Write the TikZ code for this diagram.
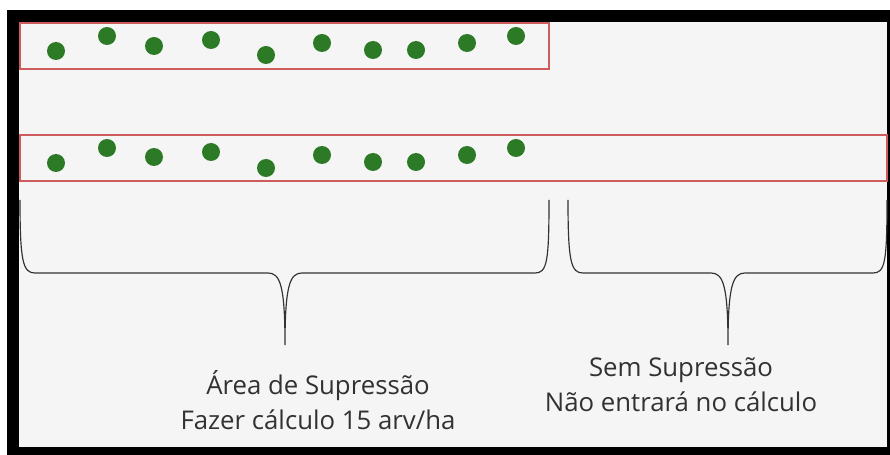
\documentclass[tikz,border=0pt]{standalone}
\usepackage{fontspec}
\setmainfont{Open Sans}
\definecolor{treegreen}{RGB}{44,122,38}
\definecolor{striped}{RGB}{206,92,92}
\definecolor{paper}{RGB}{245,245,245}
\definecolor{ink}{RGB}{50,50,50}
\tikzset{
  tree/.style={fill=treegreen},
  strip/.style={draw=striped,line width=1.6pt},
  bracket/.style={draw=ink,line width=1pt},
  caption/.style={text=ink,align=center,font=\fontsize{22}{30}\selectfont}
}
\begin{document}
\begin{tikzpicture}[x=0.03cm,y=-0.03cm]
\useasboundingbox (0,0) rectangle (890,455);
\fill[white] (0,0) rectangle (890,455);
\fill[black] (7,10) rectangle (890,455);
\fill[paper] (19,22) rectangle (887,447);
% faixas
\draw[strip] (20,23) rectangle (549,69);
\draw[strip] (20,135) rectangle (887,181);
% arvores, faixa de cima
\fill[tree] (56,51) circle(9);
\fill[tree] (107,36) circle(9);
\fill[tree] (154,46) circle(9);
\fill[tree] (211,40) circle(9);
\fill[tree] (266,55) circle(9);
\fill[tree] (322,43) circle(9);
\fill[tree] (373,50) circle(9);
\fill[tree] (416,50) circle(9);
\fill[tree] (467,43) circle(9);
\fill[tree] (516,36) circle(9);
% arvores, faixa de baixo
\fill[tree] (56,163) circle(9);
\fill[tree] (107,148) circle(9);
\fill[tree] (154,157) circle(9);
\fill[tree] (211,152) circle(9);
\fill[tree] (266,168) circle(9);
\fill[tree] (322,155) circle(9);
\fill[tree] (373,162) circle(9);
\fill[tree] (416,162) circle(9);
\fill[tree] (467,155) circle(9);
\fill[tree] (516,148) circle(9);
% chaves
\coordinate (SupTip) at (285,345);
\coordinate (SemTip) at (728,345);
\draw[bracket] (20,200) .. controls (20,262) and (23,273) .. (35,273) -- (268,273)
  .. controls (280,273) and (285,285) .. (SupTip)
  .. controls (285,285) and (290,273) .. (302,273) -- (535,273)
  .. controls (547,273) and (549,262) .. (549,200);
\draw[bracket] (568,200) .. controls (568,262) and (571,273) .. (583,273) -- (711,273)
  .. controls (723,273) and (728,285) .. (SemTip)
  .. controls (728,285) and (733,273) .. (745,273) -- (873,273)
  .. controls (885,273) and (887,262) .. (887,200);
\node[caption] (sup) at (318,400) {Área de Supressão\\Fazer cálculo 15 arv/ha};
\node[caption] (sem) at (681,385) {Sem Supressão\\Não entrará no cálculo};
\end{tikzpicture}
\end{document}
